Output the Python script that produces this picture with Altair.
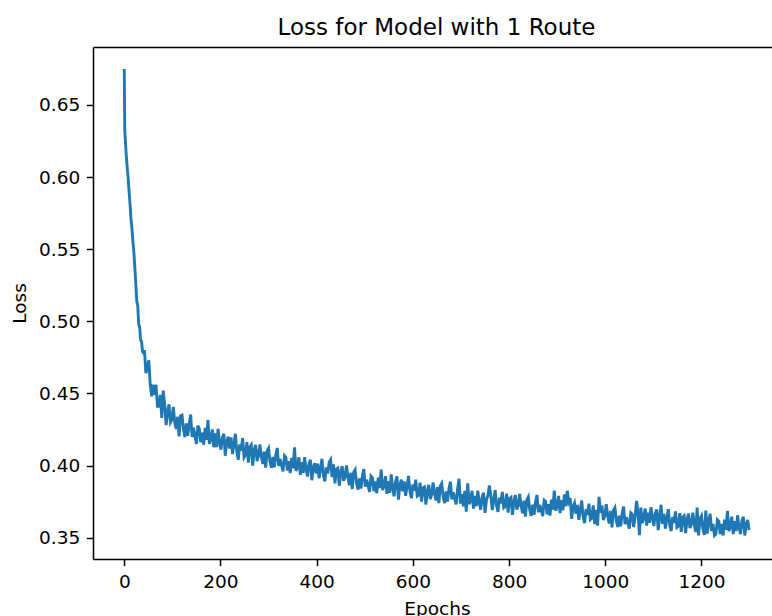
import altair as alt
import pandas as pd

early_epochs = [0, 1, 2, 4, 6, 8, 10, 12, 14, 16, 18, 20, 22, 24, 26, 28, 30, 32, 34, 36, 38, 40]
early_loss = [0.675, 0.633, 0.627, 0.616, 0.607, 0.600, 0.590, 0.581, 0.571, 0.564, 0.555,
              0.548, 0.537, 0.526, 0.514, 0.511, 0.498, 0.496, 0.487, 0.486, 0.479, 0.478]

later_epochs = list(range(42, 1300, 3))
later_loss = [
    0.480, 0.464, 0.468, 0.473, 0.456, 0.448, 0.456, 0.449, 0.456, 0.441,
    0.441, 0.449, 0.433, 0.452, 0.443, 0.428, 0.437, 0.4425, 0.430, 0.432,
    0.4406, 0.430, 0.4254, 0.4338, 0.4202, 0.4346, 0.435, 0.4254, 0.4198, 0.4292,
    0.4206, 0.429, 0.4354, 0.4198, 0.4262, 0.4206, 0.415, 0.4277, 0.4254, 0.4161,
    0.4228, 0.4145, 0.4262, 0.4179, 0.4316, 0.415, 0.4185, 0.425, 0.4127, 0.4223,
    0.4128, 0.4255, 0.4162, 0.411, 0.4195, 0.422, 0.4068, 0.4165, 0.420, 0.4118,
    0.4195, 0.408, 0.4145, 0.422, 0.4095, 0.404, 0.4147, 0.4103, 0.419, 0.4057,
    0.4075, 0.4162, 0.402, 0.4127, 0.4143, 0.400, 0.4107, 0.4143, 0.403, 0.4068,
    0.4146, 0.4063, 0.401, 0.4097, 0.3985, 0.4102, 0.412, 0.4027, 0.3985, 0.406,
    0.3988, 0.4075, 0.4122, 0.3998, 0.4045, 0.4002, 0.396, 0.4068, 0.4056, 0.3965,
    0.403, 0.3947, 0.4053, 0.398, 0.4127, 0.3963, 0.399, 0.4058, 0.3936, 0.4024,
    0.395, 0.4058, 0.3976, 0.3924, 0.4012, 0.404, 0.3898, 0.3987, 0.4016, 0.3945,
    0.4014, 0.3912, 0.398, 0.4047, 0.3934, 0.389, 0.3988, 0.3945, 0.4023, 0.404,
    0.392, 0.4008, 0.3876, 0.3974, 0.3982, 0.386, 0.3948, 0.3996, 0.3894, 0.3922,
    0.400, 0.3917, 0.3864, 0.395, 0.3837, 0.3953, 0.397, 0.3877, 0.3833, 0.391,
    0.384, 0.3928, 0.3976, 0.3854, 0.3902, 0.386, 0.3818, 0.3926, 0.3914, 0.3822,
    0.389, 0.3808, 0.3916, 0.3844, 0.3972, 0.383, 0.3858, 0.3926, 0.3804, 0.3892,
    0.381, 0.3939, 0.3848, 0.3787, 0.3886, 0.3925, 0.3764, 0.3863, 0.3902, 0.3821,
    0.389, 0.379, 0.3859, 0.3928, 0.3816, 0.3774, 0.387, 0.3826, 0.3902, 0.3788,
    0.3795, 0.3882, 0.375, 0.3846, 0.3852, 0.373, 0.3818, 0.3866, 0.3768, 0.380,
    0.3882, 0.3805, 0.3758, 0.385, 0.374, 0.3858, 0.3875, 0.3782, 0.374, 0.382,
    0.375, 0.384, 0.3888, 0.3766, 0.3814, 0.3772, 0.373, 0.384, 0.3908, 0.3736,
    0.3802, 0.3718, 0.3824, 0.368, 0.3876, 0.3732, 0.3758, 0.3825, 0.3702, 0.379,
    0.3718, 0.3826, 0.3745, 0.3694, 0.3783, 0.3812, 0.3672, 0.3762, 0.3792, 0.3862,
    0.3792, 0.3691, 0.376, 0.383, 0.3719, 0.3679, 0.3778, 0.3738, 0.3817, 0.3707,
    0.3716, 0.3805, 0.3674, 0.3772, 0.378, 0.3658, 0.3747, 0.3796, 0.3695, 0.3724,
    0.3803, 0.3721, 0.3669, 0.3757, 0.3645, 0.3763, 0.3782, 0.3691, 0.365, 0.3729,
    0.3658, 0.3747, 0.3796, 0.3676, 0.3727, 0.3688, 0.3649, 0.376, 0.3751, 0.3662,
    0.3732, 0.3653, 0.3764, 0.3695, 0.3826, 0.3687, 0.3718, 0.3789, 0.367, 0.376,
    0.369, 0.380, 0.3718, 0.3825, 0.375, 0.3775, 0.363, 0.3715, 0.374, 0.3665,
    0.3728, 0.3624, 0.369, 0.3757, 0.3644, 0.3601, 0.3698, 0.3657, 0.3736, 0.3625,
    0.3635, 0.3724, 0.3594, 0.3693, 0.3583, 0.3783, 0.3673, 0.3723, 0.3622, 0.3652,
    0.3732, 0.365, 0.3598, 0.3685, 0.3572, 0.369, 0.3708, 0.3616, 0.3574, 0.3652,
    0.3578, 0.3666, 0.3715, 0.3594, 0.3643, 0.3603, 0.3562, 0.3672, 0.3662, 0.3573,
    0.3644, 0.3755, 0.3676, 0.3517, 0.3708, 0.360, 0.364, 0.3702, 0.3583, 0.3673,
    0.3603, 0.3712, 0.364, 0.358, 0.3668, 0.3695, 0.3552, 0.364, 0.3728, 0.3596,
    0.3664, 0.3562, 0.363, 0.3698, 0.3586, 0.3545, 0.3644, 0.3603, 0.3682, 0.3571,
    0.358, 0.367, 0.354, 0.364, 0.3651, 0.3531, 0.362, 0.3668, 0.3566, 0.3595,
    0.3674, 0.3592, 0.354, 0.3708, 0.3516, 0.3634, 0.3652, 0.356, 0.3519, 0.3688,
    0.3528, 0.3617, 0.3666, 0.3546, 0.3595, 0.3515, 0.3525, 0.3625, 0.3615, 0.3525,
    0.3595, 0.3515, 0.3625, 0.3555, 0.3685, 0.3545, 0.3575, 0.3645, 0.3525, 0.3615,
    0.3545, 0.3655, 0.3575, 0.3525, 0.3615, 0.3645, 0.3515, 0.3594, 0.3623, 0.3552,
]

x_ticks = [0, 200, 400, 600, 800, 1000, 1200]
y_ticks = [0.35, 0.40, 0.45, 0.50, 0.55, 0.60, 0.65]

df = pd.DataFrame({
    "epoch": early_epochs + later_epochs,
    "loss": early_loss + later_loss,
})

FONT = "DejaVu Sans"
x_scale = alt.Scale(domain=[-65, 1346.6], nice=False, zero=False)
y_scale = alt.Scale(domain=[0.3352, 0.6902], nice=False, zero=False)

line = alt.Chart(df).mark_line(color="#1f77b4", strokeWidth=2.9, clip=True).encode(
    x=alt.X("epoch:Q", scale=x_scale,
            axis=alt.Axis(values=x_ticks, format="d", title="Epochs",
                          titleX=344, titleY=55, titleBaseline="alphabetic",
                          titleAnchor="start", titleAlign="center")),
    y=alt.Y("loss:Q", scale=y_scale,
            axis=alt.Axis(values=y_ticks, format=".2f", title="Loss",
                          titleX=-68, titleY=256, titleBaseline="alphabetic",
                          titleAlign="center", titleAngle=-90)),
)

top = alt.Chart(df).mark_rule(opacity=0).encode(
    x=alt.X("epoch:Q", scale=x_scale,
            axis=alt.Axis(orient="top", labels=False, ticks=False, domain=True,
                          title=None, grid=False)),
)

chart = alt.layer(line, top).resolve_axis(x="independent").properties(
    width=679,
    height=512,
    padding={"left": 93, "top": 47, "right": 0, "bottom": 57},
    autosize=alt.AutoSizeParams(type="none"),
    title=alt.TitleParams("Loss for Model with 1 Route", fontSize=23, font=FONT,
                          fontWeight="normal", color="black", anchor="middle",
                          frame="group", baseline="alphabetic", offset=-11, dx=4),
).configure_view(stroke=None).configure_axis(
    grid=False,
    domainColor="black",
    domainWidth=1.5,
    tickColor="black",
    tickWidth=1.5,
    tickSize=6.7,
    labelFont=FONT,
    labelFontSize=18.5,
    labelColor="black",
    labelPadding=6.5,
    titleFont=FONT,
    titleFontSize=18.5,
    titleFontWeight="normal",
    titleColor="black",
    labelFlush=False,
)

chart.save("out.html", embed_options={"renderer": "svg", "actions": False})
